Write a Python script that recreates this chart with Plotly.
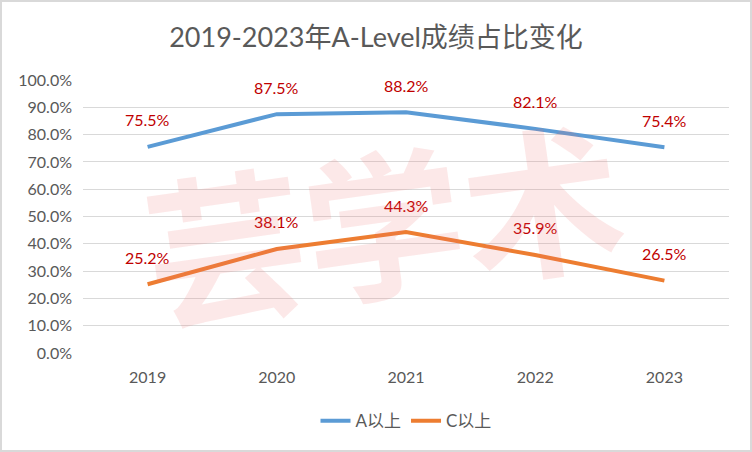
import plotly.graph_objects as go

years = ["2019", "2020", "2021", "2022", "2023"]
a_above = [0.755, 0.875, 0.882, 0.821, 0.754]
c_above = [0.252, 0.381, 0.443, 0.359, 0.265]
series_names = ["A以上", "C以上"]
title_text = "2019-2023年A-Level成绩占比变化"
watermark = "芸学术"

FONT = "Lato, 'Noto Sans CJK SC', sans-serif"
colors = ["#5B9BD5", "#ED7D31"]

fig = go.Figure()
for name, vals, col in zip(series_names, [a_above, c_above], colors):
    fig.add_trace(go.Scatter(x=years, y=vals, mode="lines", name=name,
                             line=dict(color=col, width=4)))

annotations = []
for vals in [a_above, c_above]:
    for i, v in enumerate(vals):
        annotations.append(dict(x=i, y=v, xref="x", yref="y", text=f"{v*100:.1f}%",
                                showarrow=False, yshift=27,
                                font=dict(family=FONT, size=16, color="#C00000")))

# watermark
annotations.append(dict(xref="paper", yref="paper", x=0.465, y=0.50, text=watermark,
                        showarrow=False, textangle=-8,
                        font=dict(family="'Noto Sans CJK SC'", size=160, color="rgba(235,110,110,0.16)",
                                  weight="bold")))

fig.update_layout(
    width=752, height=452,
    margin=dict(l=83, r=23, t=80, b=99),
    paper_bgcolor="white", plot_bgcolor="white",
    title=dict(text=title_text, x=0.5, xanchor="center", y=1 - 38/452, yanchor="middle",
               font=dict(family=FONT, size=27, color="#595959")),
    showlegend=True,
    legend=dict(orientation="h", x=0.5, xanchor="center", y=-0.25, yanchor="middle",
                font=dict(family=FONT, size=17, color="#595959")),
    annotations=annotations,
    xaxis=dict(type="category", range=[-0.5, len(years) - 0.5],
               showgrid=False, showline=False, zeroline=False, ticks="",
               tickfont=dict(family=FONT, size=16, color="#595959"), ticklabelstandoff=13),
    yaxis=dict(range=[0, 1], dtick=0.1, tickformat=".1%", showgrid=True,
               gridcolor="#D9D9D9", gridwidth=1, zeroline=False, showline=False,
               tickfont=dict(family=FONT, size=16, color="#595959"), ticklabelstandoff=10),
    shapes=[dict(type="rect", xref="paper", yref="paper",
                 x0=(1 - 83) / 646, x1=(751 - 83) / 646,
                 y0=(353 - 451) / 273, y1=(353 - 1) / 273,
                 line=dict(color="#D9D9D9", width=2), layer="below")],
)

fig.write_html("out.html", config={"displayModeBar": False},
               post_script="document.body.style.margin='0';")
